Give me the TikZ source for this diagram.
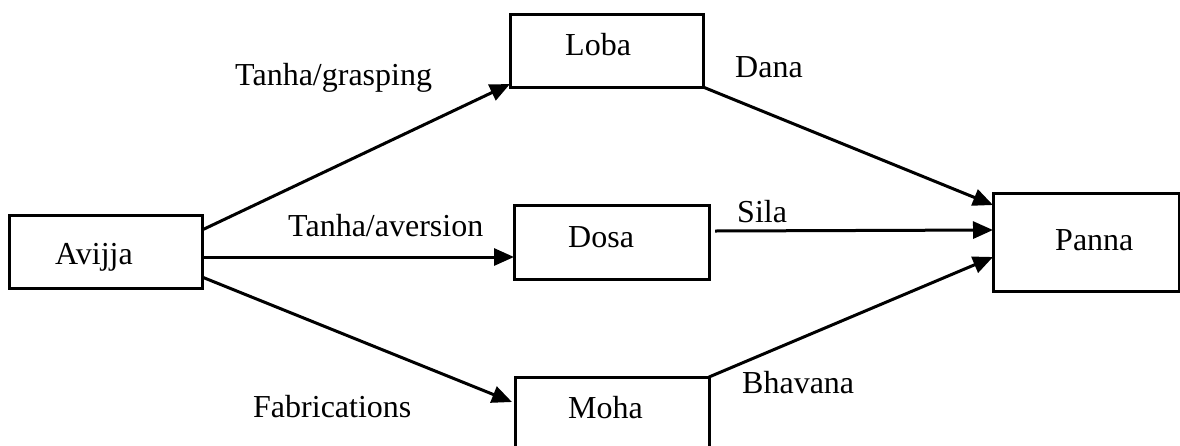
\documentclass[tikz,border=0pt]{standalone}
\usepackage{fontspec}
\setmainfont{Liberation Serif}
\usetikzlibrary{arrows.meta,calc}
\begin{document}
\begin{tikzpicture}[x=1pt,y=-1pt,
  box/.style={draw,line width=3pt,inner sep=0pt,outer sep=0pt,rectangle},
  txt/.style={anchor=base west,inner sep=0pt,font=\fontsize{32}{38}\selectfont},
  conn/.style={line width=3pt,-{Triangle[length=20pt,width=17pt]}}]
\clip (0,0) rectangle (1180,445);
\fill[white] (0,0) rectangle (1180,445);
% boxes
\node[box,minimum width=193pt,minimum height=73pt] (avijja) at (105.5,251.5) {};
\node[box,minimum width=193pt,minimum height=73pt] (loba) at (606.5,50.5) {};
\node[box,minimum width=195pt,minimum height=74pt] (dosa) at (611.5,242) {};
\node[box,minimum width=194pt,minimum height=80pt] (moha) at (612,417) {};
\node[box,minimum width=186pt,minimum height=98pt] (panna) at (1086,242) {};
% box texts
\node[txt] (avijjat) at (55,264) {Avijja};
\node[txt] (lobat) at (565,55) {Loba};
\node[txt] (dosat) at (568,247) {Dosa};
\node[txt] (mohat) at (568,418) {Moha};
\node[txt] (pannat) at (1055,250) {Panna};
% labels
\node[txt] (l1) at (235,85) {Tanha/grasping};
\node[txt] (l2) at (288,236) {Tanha/aversion};
\node[txt] (l3) at (253,417) {Fabrications};
\node[txt] (l4) at (735,77) {Dana};
\node[txt] (l5) at (737,222) {Sila};
\node[txt] (l6) at (742,393) {Bhavana};
% connectors
\draw[conn] ($(avijja.east)+(0,-21.5)$) -- ($(loba.south west)+(0,-3)$);
\draw[conn] ($(avijja.east)+(0,5.5)$) -- ($(dosa.west)+(0,15)$);
\draw[conn] ($(avijja.east)+(0,25.5)$) -- ($(moha.north west)+(-3,25)$);
\draw[conn] (loba.south east) -- ($(panna.west)+(0,-37)$);
\draw[conn] ($(dosa.east)+(6,-11)$) -- ($(panna.west)+(0,-12)$);
\draw[conn] (moha.north east) -- ($(panna.west)+(0,15)$);
\end{tikzpicture}
\end{document}
